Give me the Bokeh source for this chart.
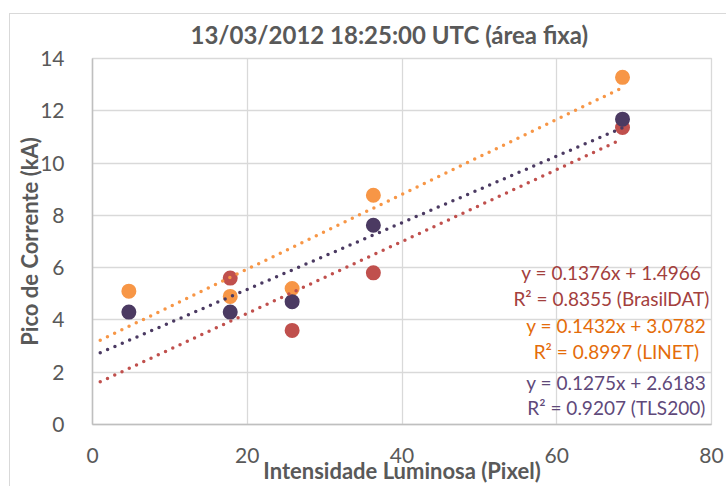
from bokeh.plotting import figure
from bokeh.models import Range1d, FixedTicker, ColumnDataSource
from bokeh.core.properties import value
from bokeh.embed import file_html
from bokeh.resources import INLINE

# ---- data ----
x_vals = [4.7, 17.8, 25.8, 36.3, 68.5]
brasildat = [float("nan"), 5.6, 3.6, 5.8, 11.36]
linet = [5.1, 4.9, 5.2, 8.77, 13.28]
tls200 = [4.3, 4.3, 4.7, 7.62, 11.68]

fits = {
    "BrasilDAT": (0.1376, 1.4966, 0.8355),
    "LINET": (0.1432, 3.0782, 0.8997),
    "TLS200": (0.1275, 2.6183, 0.9207),
}
trend_x = [1.0, 68.5]

x_ticks = [0, 20, 40, 60, 80]
y_ticks = [0, 2, 4, 6, 8, 10, 12, 14]

title_text = "13/03/2012 18:25:00 UTC (área fixa)"
x_label = "Intensidade Luminosa (Pixel)"
y_label = "Pico de Corrente (kA)"

# label positions (data coords) for equation texts
eq_x = {"BrasilDAT": 67.05, "LINET": 67.7, "TLS200": 67.7}
eq_y = {"BrasilDAT": (5.82, 4.82), "LINET": (3.79, 2.79), "TLS200": (1.60, 0.64)}

marker_colors = {"BrasilDAT": "#C0504D", "LINET": "#F79646", "TLS200": "#4B3A62"}
text_colors = {"BrasilDAT": "#A3403D", "LINET": "#E46C0A", "TLS200": "#5F497A"}

FONT = "Lato"
GRAY = "#595959"

p = figure(width=726, height=486, output_backend="svg", toolbar_location=None,
           x_range=Range1d(0, 80), y_range=Range1d(0, 14),
           min_border_left=92, min_border_right=15, min_border_top=58, min_border_bottom=62)

# outer chart-area border (light gray lines at left/top), drawn as page background
p.border_fill_alpha = 0
p.background_fill_color = "white"
p.styles = {
    "background": "linear-gradient(#d9d9d9, #d9d9d9) 9px 13px / 1px 100% no-repeat, "
                  "linear-gradient(#d9d9d9, #d9d9d9) 9px 13px / 100% 1px no-repeat, white"
}

p.title.text = title_text
p.title.text_font = FONT
p.title.text_font_size = "24px"
p.title.text_font_style = "bold"
p.title.text_color = GRAY
p.title.align = "left"
p.title.offset = 98
p.title.standoff = 19

p.outline_line_color = "#d9d9d9"
p.outline_line_width = 1.3

for ax in (p.xaxis[0], p.yaxis[0]):
    ax.axis_line_color = "#bfbfbf"
    ax.axis_line_width = 1.5
    ax.major_tick_line_color = None
    ax.minor_tick_line_color = None
    ax.major_label_text_font = FONT
    ax.major_label_text_font_size = "21px"
    ax.major_label_text_color = GRAY
    ax.axis_label_text_font = FONT
    ax.axis_label_text_font_size = "22px"
    ax.axis_label_text_font_style = "bold"
    ax.axis_label_text_color = GRAY

p.xaxis.ticker = FixedTicker(ticks=x_ticks)
p.yaxis.ticker = FixedTicker(ticks=y_ticks)
p.xaxis.axis_label = x_label
p.yaxis.axis_label = y_label
p.xaxis.major_label_standoff = 17
p.xaxis.axis_label_standoff = -9
p.yaxis.major_label_standoff = 22
p.yaxis.axis_label_standoff = -6

p.xgrid.ticker = FixedTicker(ticks=x_ticks)
p.ygrid.ticker = FixedTicker(ticks=y_ticks)
p.grid.grid_line_color = "#d9d9d9"
p.grid.grid_line_width = 1.3

series = {"BrasilDAT": brasildat, "LINET": linet, "TLS200": tls200}
for name, ys in series.items():
    src = ColumnDataSource(dict(x=x_vals, y=ys))
    p.scatter("x", "y", source=src, size=15, color=marker_colors[name], line_color=None)

for name in ["BrasilDAT", "LINET", "TLS200"]:
    m, b, r2 = fits[name]
    ty = [m * xx + b for xx in trend_x]
    p.line(trend_x, ty, line_color=marker_colors[name], line_width=3.5,
           line_dash="0 8", line_cap="round")

for name in ["BrasilDAT", "LINET", "TLS200"]:
    m, b, r2 = fits[name]
    l1 = f"y = {m:.4f}x + {b:.4f}"
    l2 = f"R² = {r2:.4f} ({name})"
    y1, y2 = eq_y[name]
    p.text(x=[eq_x[name], eq_x[name]], y=[y1, y2], text=[l1, l2],
           text_font=value(FONT), text_font_size="19px", text_color=text_colors[name],
           text_align="center", text_baseline="middle")

open("out.html", "w").write(file_html(p, INLINE))
